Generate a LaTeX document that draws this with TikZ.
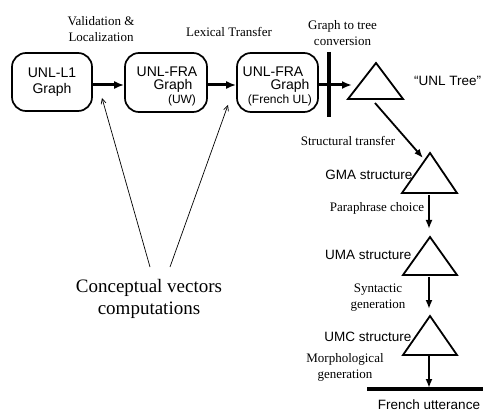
\documentclass[tikz,border=0pt]{standalone}
\usepackage{fontspec}
\setmainfont{Liberation Serif}
\newfontfamily\arialf{Liberation Sans}
\usetikzlibrary{arrows.meta}
\tikzset{
  gbox/.style={draw, line width=1.7pt, rounded corners=14pt, inner sep=0pt},
  boxtxt/.style={font=\arialf\fontsize{14}{16}\selectfont, inner sep=0pt},
  smalltxt/.style={font=\arialf\fontsize{12}{14}\selectfont, inner sep=0pt},
  sanslbl/.style={font=\arialf\fontsize{13.5}{16}\selectfont, inner sep=0pt},
  seriflbl/.style={font=\fontsize{13}{16}\selectfont, align=center, inner sep=0pt},
  bigarrow/.style={line width=3pt, -{Latex[length=10pt,width=8pt]}},
  midarrow/.style={line width=1.8pt, -{Latex[length=9pt,width=7pt]}},
  thinarrow/.style={line width=0.7pt, -{Straight Barb[length=5pt,width=5pt]}},
  tri/.style={line width=1.8pt, line join=miter},
  bar/.style={line width=3.5pt}
}
\begin{document}
\begin{tikzpicture}[x=1pt,y=-1pt]
\useasboundingbox (0,0) rectangle (483,412);
% boxes
\node[gbox, minimum width=80pt, minimum height=58pt] (b1) at (52,82) {};
\node[gbox, minimum width=82pt, minimum height=59pt] (b2) at (166,82.5) {};
\node[gbox, minimum width=81pt, minimum height=59pt] (b3) at (277.5,82.5) {};
\node[boxtxt] (b1t1) at (52,73) {UNL-L1};
\node[boxtxt] (b1t2) at (52,90) {Graph};
\node[boxtxt] (b2t1) at (167,72) {UNL-FRA};
\node[boxtxt] (b2t2) at (173,86) {Graph};
\node[smalltxt] (b2t3) at (182,100) {(UW)};
\node[boxtxt] (b3t1) at (273,72) {UNL-FRA};
\node[boxtxt] (b3t2) at (290,86) {Graph};
\node[smalltxt] (b3t3) at (280,100) {(French UL)};
% labels
\node[seriflbl] (l1) at (101,29.5) {Validation \&\\Localization};
\node[seriflbl] (l2) at (229,32) {Lexical Transfer};
\node[seriflbl] (l3) at (342.5,33) {Graph to tree\\conversion};
\node[seriflbl] (l4) at (348,141) {Structural transfer};
\node[seriflbl] (l5) at (377,208) {Paraphrase choice};
\node[seriflbl] (l6) at (378,298) {Syntactic\\generation};
\node[seriflbl] (l7) at (345,367) {Morphological\\generation};
\node[sanslbl, anchor=west] (unltree) at (414,81) {“UNL Tree”};
\node[sanslbl, anchor=east] (gma) at (412.5,175) {GMA structure};
\node[sanslbl, anchor=east] (uma) at (411.5,255) {UMA structure};
\node[sanslbl, anchor=east] (umc) at (411.5,337) {UMC structure};
\node[sanslbl] (fr) at (429,404.5) {French utterance};
\node[font=\fontsize{19}{22}\selectfont, align=center, inner sep=0pt] (cv) at (149,299) {Conceptual vectors\\computations};
% triangles
\coordinate (t1a) at (376,63); \coordinate (t1l) at (348,99); \coordinate (t1r) at (403,99);
\coordinate (t2a) at (430,153); \coordinate (t2l) at (402,193); \coordinate (t2r) at (457,193);
\coordinate (t3a) at (430,237); \coordinate (t3l) at (403,275); \coordinate (t3r) at (457,275);
\coordinate (t4a) at (430,316); \coordinate (t4l) at (403,355); \coordinate (t4r) at (457,355);
\draw[tri] (t1a) -- (t1l) -- (t1r) -- cycle;
\draw[tri] (t2a) -- (t2l) -- (t2r) -- cycle;
\draw[tri] (t3a) -- (t3l) -- (t3r) -- cycle;
\draw[tri] (t4a) -- (t4l) -- (t4r) -- cycle;
% bars
\coordinate (bartop) at (329,52); \coordinate (barbot) at (329,117);
\draw[bar] (bartop) -- (barbot);
\coordinate (hbl) at (367,389); \coordinate (hbr) at (490,389);
\draw[bar] (hbl) -- (hbr);
% main arrows
\coordinate (t1in) at (352,85);
\draw[bigarrow] ([yshift=-3pt]b1.east) -- ([yshift=-2.5pt]b2.west);
\draw[bigarrow] ([yshift=-2.5pt]b2.east) -- ([yshift=-2.5pt]b3.west);
\draw[bigarrow] ([yshift=-2.5pt]b3.east) -- (t1in);
\coordinate (t1out) at (375,103); \coordinate (t2in) at (423,158);
\draw[midarrow] (t1out) -- (t2in);
\coordinate (t2out) at (429,195); \coordinate (t3in) at (429,229);
\draw[midarrow] (t2out) -- (t3in);
\coordinate (t3out) at (429,277); \coordinate (t4in) at (429,309);
\draw[midarrow] (t3out) -- (t4in);
\coordinate (t4out) at (429,355); \coordinate (hbin) at (429,388);
\draw[midarrow] (t4out) -- (hbin);
% conceptual vector arrows
\coordinate (cv1) at (150,267); \coordinate (tipA) at (102,98);
\coordinate (cv2) at (170,267); \coordinate (tipB) at (228,105);
\draw[thinarrow] (cv1) -- (tipA);
\draw[thinarrow] (cv2) -- (tipB);
\end{tikzpicture}
\end{document}
